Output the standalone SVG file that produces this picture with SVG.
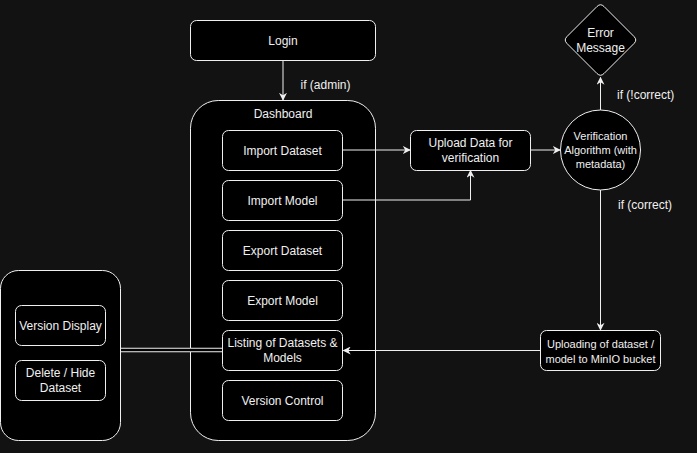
<svg xmlns="http://www.w3.org/2000/svg" width="697" height="453" viewBox="0 0 697 453">
<defs>
<style>
.box{fill:#000;stroke:#f0f0f0;stroke-width:1}
.t{font-family:"Liberation Sans",Arial,sans-serif;font-size:12px;fill:#f0f0f0;text-anchor:middle}
.s{font-size:11px}
.lbl{font-family:"Liberation Sans",Arial,sans-serif;font-size:12px;fill:#f0f0f0}
.e{fill:none;stroke:#f0f0f0;stroke-width:1}
</style>
<marker id="arr" viewBox="0 0 10 10" refX="9" refY="5" markerWidth="8" markerHeight="8" markerUnits="userSpaceOnUse" orient="auto">
<path d="M0,0 L10,5 L0,10 L3,5 Z" fill="#f0f0f0"/>
</marker>
</defs>
<rect width="697" height="453" fill="#121212"/>

<g id="login">
<rect class="box" x="190.5" y="20.5" width="185" height="40" rx="6"/>
<text class="t" x="283" y="44.5">Login</text>
</g>

<g id="dashboard">
<rect class="box" x="190.5" y="100.5" width="185" height="340" rx="27.75"/>
<text class="t" x="283" y="118">Dashboard</text>
</g>

<g id="import-dataset">
<rect class="box" x="222.5" y="130.5" width="120" height="40" rx="6"/>
<text class="t" x="282.5" y="154.5">Import Dataset</text>
</g>
<g id="import-model">
<rect class="box" x="222.5" y="180.5" width="120" height="40" rx="6"/>
<text class="t" x="282.5" y="204.5">Import Model</text>
</g>
<g id="export-dataset">
<rect class="box" x="222.5" y="230.5" width="120" height="40" rx="6"/>
<text class="t" x="282.5" y="254.5">Export Dataset</text>
</g>
<g id="export-model">
<rect class="box" x="222.5" y="280.5" width="120" height="40" rx="6"/>
<text class="t" x="282.5" y="304.5">Export Model</text>
</g>
<g id="listing">
<rect class="box" x="222.5" y="330.5" width="120" height="40" rx="6"/>
<text class="t" x="282.5" y="347">Listing of Datasets &amp;</text>
<text class="t" x="282.5" y="361.5">Models</text>
</g>
<g id="version-control">
<rect class="box" x="222.5" y="380.5" width="120" height="40" rx="6"/>
<text class="t" x="282.5" y="404.5">Version Control</text>
</g>

<g id="upload-data">
<rect class="box" x="410.5" y="130.5" width="120" height="40" rx="6"/>
<text class="t" x="470.5" y="147">Upload Data for</text>
<text class="t" x="470.5" y="161.5">verification</text>
</g>

<g id="verification">
<circle class="box" cx="600.5" cy="150" r="40"/>
<text class="t s" x="600.5" y="140">Verification</text>
<text class="t s" x="600.5" y="154">Algorithm (with</text>
<text class="t s" x="600.5" y="168">metadata)</text>
</g>

<g id="error">
<path class="box" d="M597,6.5 Q600.5,3 604,6.5 L634,36.5 Q637.5,40 634,43.5 L604,73.5 Q600.5,77 597,73.5 L567,43.5 Q563.5,40 567,36.5 Z"/>
<text class="t" x="600.5" y="37">Error</text>
<text class="t" x="600.5" y="52">Message</text>
</g>

<g id="uploading">
<rect class="box" x="540.5" y="330.5" width="120" height="40" rx="6"/>
<text class="t s" x="600.5" y="348">Uploading of dataset /</text>
<text class="t s" x="600.5" y="362.5">model to MinIO bucket</text>
</g>

<g id="side-panel">
<rect class="box" x="0.5" y="270.5" width="120" height="170" rx="18"/>
</g>
<g id="version-display">
<rect class="box" x="15.5" y="305.5" width="90" height="40" rx="6"/>
<text class="t" x="60.5" y="329.5">Version Display</text>
</g>
<g id="delete-hide">
<rect class="box" x="15.5" y="360.5" width="90" height="40" rx="6"/>
<text class="t" x="60.5" y="377">Delete / Hide</text>
<text class="t" x="60.5" y="391.5">Dataset</text>
</g>

<g id="connectors">
<path class="e" d="M283,60.5 V100" marker-end="url(#arr)"/>
<path class="e" d="M343,150 H410" marker-end="url(#arr)"/>
<path class="e" d="M343,200 H470.5 V170.5" marker-end="url(#arr)"/>
<path class="e" d="M530.5,150 H560" marker-end="url(#arr)"/>
<path class="e" d="M600.5,110 V77.5" marker-end="url(#arr)"/>
<path class="e" d="M600.5,190 V330" marker-end="url(#arr)"/>
<path class="e" d="M540.5,350.5 H343.5" marker-end="url(#arr)"/>
<path d="M121,350 H222" stroke="#f0f0f0" stroke-width="4.5" fill="none"/>
<path d="M121,350 H222" stroke="#000" stroke-width="2.5" fill="none"/>
</g>

<g id="labels">
<text class="lbl" x="300.5" y="89">if (admin)</text>
<text class="lbl" x="617" y="99">if (!correct)</text>
<text class="lbl" x="618" y="209">if (correct)</text>
</g>
</svg>
